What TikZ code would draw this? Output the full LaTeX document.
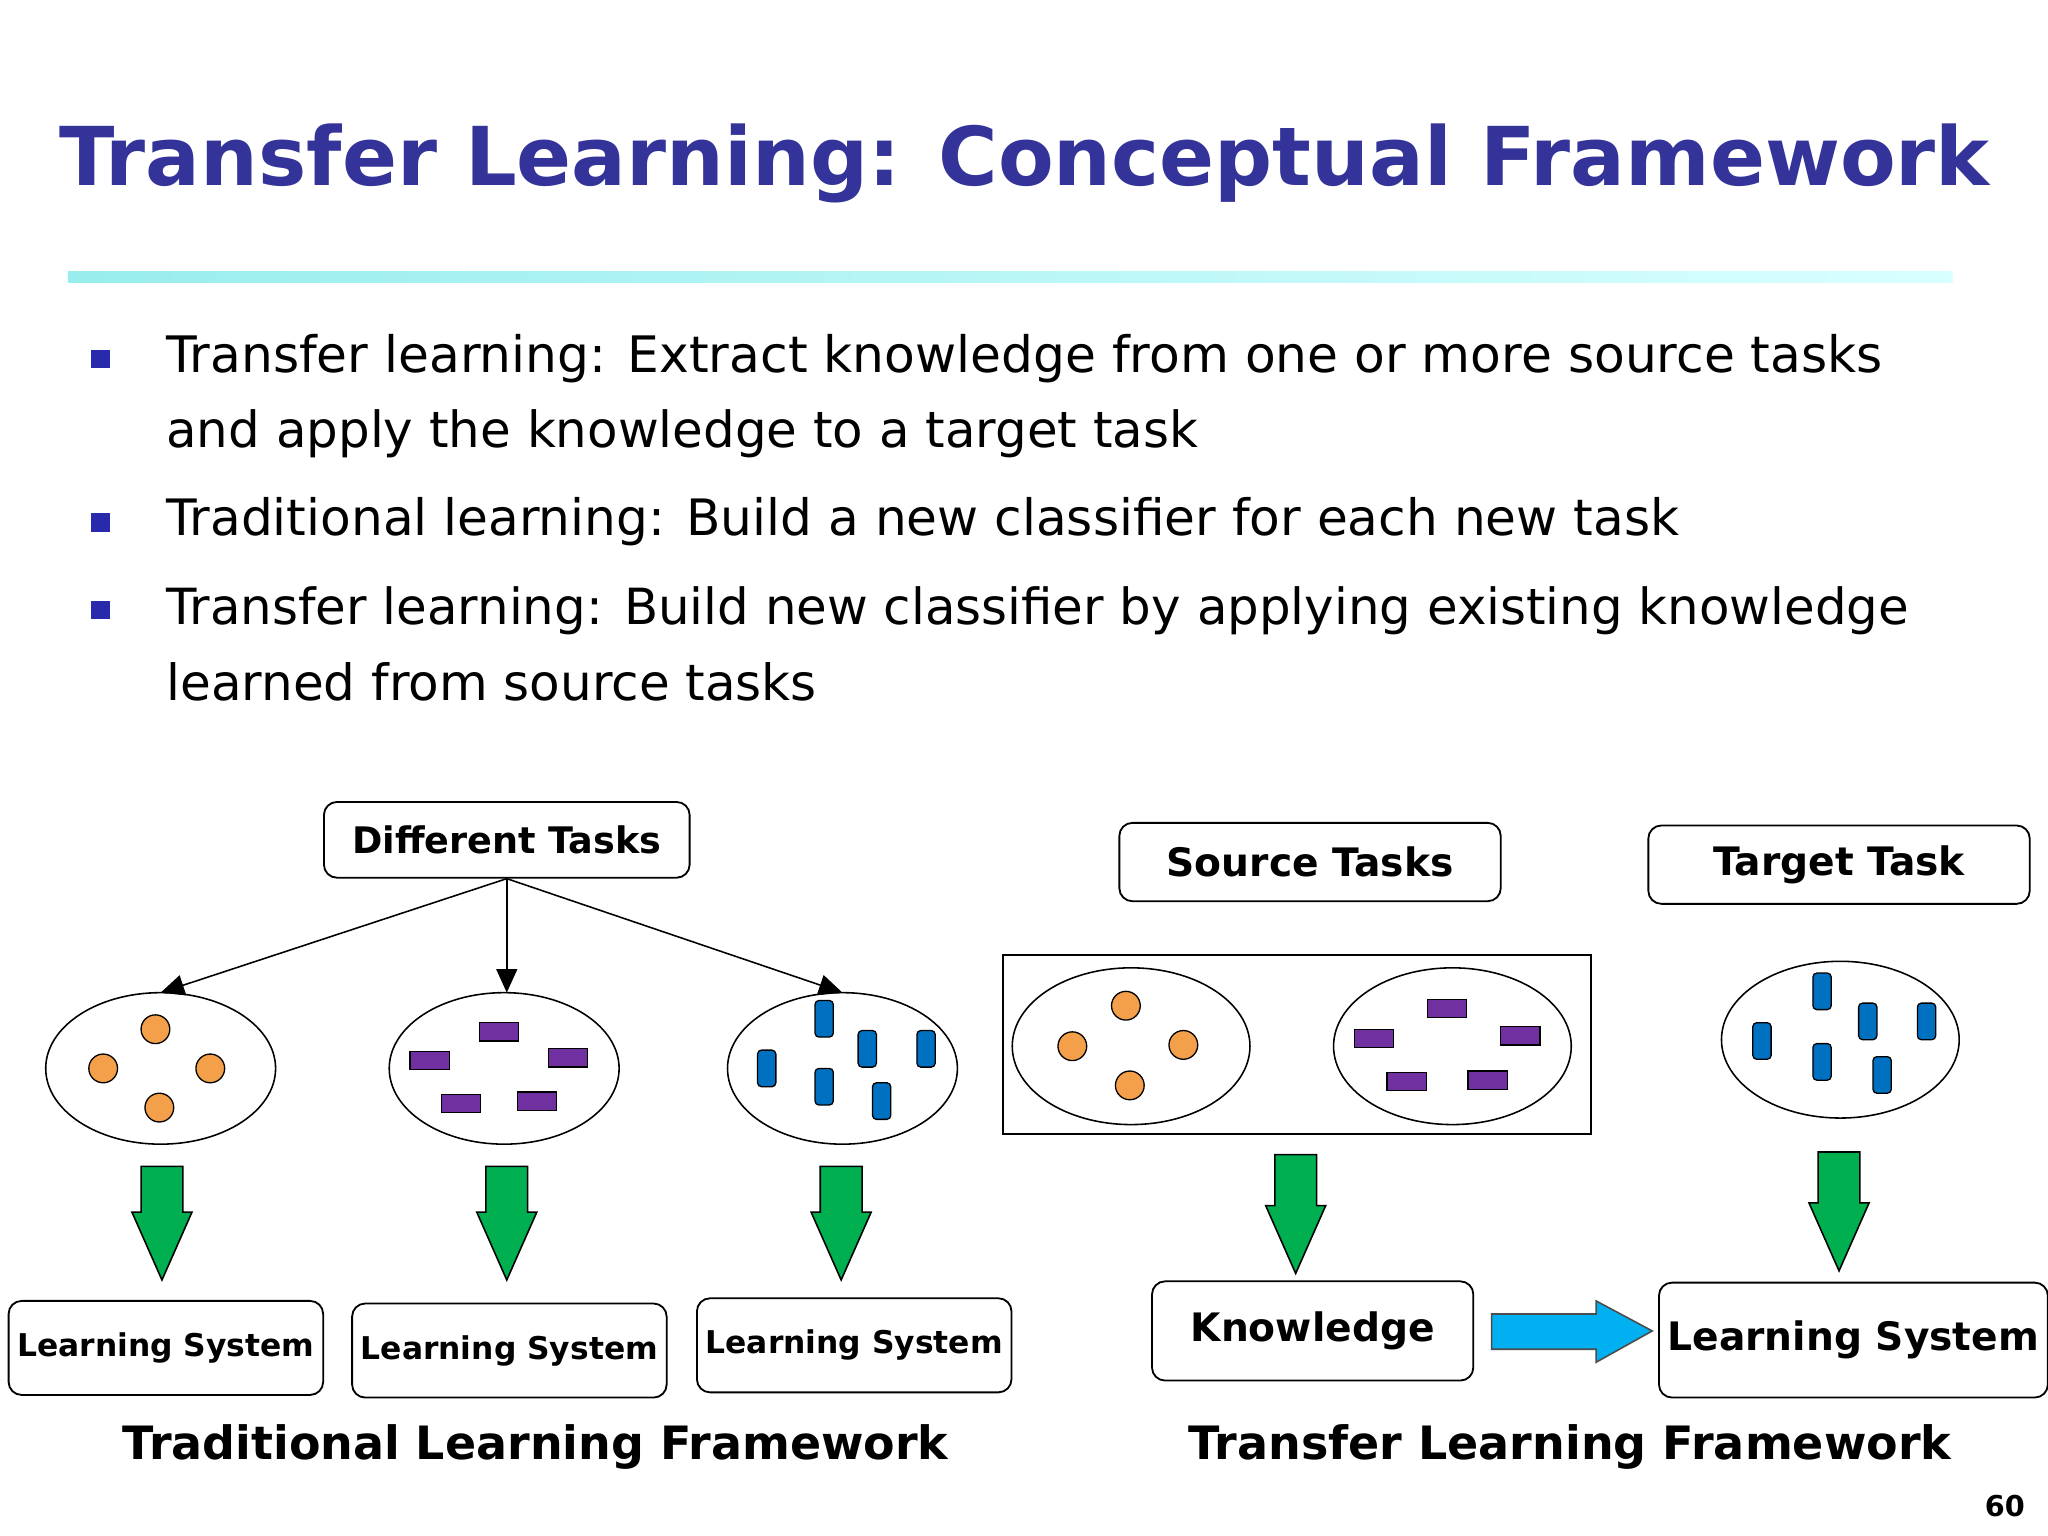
\documentclass[tikz,border=0pt]{standalone}
\usepackage{graphicx}
\usepackage{fontspec}
\setmainfont{DejaVu Sans}
\usetikzlibrary{arrows.meta,shapes.geometric}
\definecolor{ttl}{HTML}{333399}
\definecolor{org}{HTML}{F4A04A}
\definecolor{pur}{HTML}{7030A0}
\definecolor{blu}{HTML}{0070C0}
\definecolor{grn}{HTML}{00B050}
\definecolor{cyn}{HTML}{00B0F0}
\tikzset{
 rbox/.style={draw,rounded corners=5pt,line width=0.7pt,font=\bfseries},
 ell/.style={draw,ellipse,line width=0.6pt},
 oc/.style={draw,circle,fill=org,minimum size=11pt,inner sep=0pt,line width=0.5pt},
 pr/.style={draw,fill=pur,minimum width=15pt,minimum height=7pt,inner sep=0pt,line width=0.5pt},
 br/.style={draw,fill=blu,rounded corners=1.5pt,minimum width=7pt,minimum height=14pt,inner sep=0pt,line width=0.5pt},
 ga/.style={draw,fill=grn,line width=0.6pt,line join=miter},
 conn/.style={-{Triangle[length=9pt,width=8pt]},line width=0.6pt},
}
\newcommand{\lw}[2]{\resizebox{#1pt}{!}{#2}}
\begin{document}
\begin{tikzpicture}[x=0.5pt,y=-0.5pt]
\useasboundingbox (0,0) rectangle (1568,1176);
\node[anchor=west,text=ttl,font=\bfseries,inner sep=0pt] (title) at (45,125) {\lw{739}{Transfer Learning: Conceptual Framework}};
\shade[left color=teal!35!cyan!40, right color=cyan!15] (52,208) rectangle (1495,216);
\foreach \y in {275,400,467}{\fill[ttl!80!blue] (70,\y-7) rectangle (84,\y+7);}
\node[anchor=base west,inner sep=0pt] (b1) at (127,285) {\lw{657}{Transfer learning: Extract knowledge from one or more source tasks}};
\node[anchor=base west,inner sep=0pt] (b1b) at (127,343) {\lw{395}{and apply the knowledge to a target task}};
\node[anchor=base west,inner sep=0pt] (b2) at (127,410) {\lw{579}{Traditional learning: Build a new classifier for each new task}};
\node[anchor=base west,inner sep=0pt] (b3) at (127,478) {\lw{667}{Transfer learning: Build new classifier by applying existing knowledge}};
\node[anchor=base west,inner sep=0pt] (b3b) at (127,536) {\lw{249}{learned from source tasks}};
% left
\node[rbox,minimum width=140pt,minimum height=29pt,font=\bfseries\fontsize{14}{16}\selectfont] (dt) at (388,643) {Different Tasks};
\node[ell,minimum width=88pt,minimum height=58pt] (e1) at (123,818) {};
\node[ell,minimum width=88pt,minimum height=58pt] (e2) at (386,818) {};
\node[ell,minimum width=88pt,minimum height=58pt] (e3) at (645,818) {};
\coordinate (t1) at (123,760); \coordinate (t2) at (388,760); \coordinate (t3) at (645,760);
\draw[conn] (dt.south) -- (t1); \draw[conn] (dt.south) -- (t2); \draw[conn] (dt.south) -- (t3);
\foreach \p in {(119,788),(79,818),(161,818),(122,848),(862,770),(821,801),(906,800),(865,831)} \node[oc] at \p {};
\foreach \p in {(382,790),(329,812),(435,810),(353,845),(411,843),(1108,772),(1052,795),(1164,793),(1077,828),(1139,827)} \node[pr] at \p {};
\foreach \p in {(631,780),(587,818),(664,803),(709,803),(631,832),(675,843),(1395,759),(1349,797),(1430,782),(1475,782),(1395,813),(1441,823)} \node[br] at \p {};
\foreach \cx/\tp/\tip in {124/893/980,388/893/980,644/893/980,992/884/975,1408/882/973}{
 \draw[ga] (\cx-16,\tp) -- (\cx+16,\tp) -- (\cx+16,\tip-52) -- (\cx+23,\tip-52) -- (\cx,\tip) -- (\cx-23,\tip-52) -- (\cx-16,\tip-52) -- cycle;}
\tikzset{ls/.style={rbox,minimum width=117pt,minimum height=36pt,font=\bfseries\fontsize{12}{14}\selectfont}}
\node[ls] (l1) at (127,1032) {Learning System};
\node[ls] (l2) at (390,1034) {Learning System};
\node[ls] (l3) at (654,1030) {Learning System};
\node[font=\bfseries,inner sep=0pt] (tlf) at (410,1108) {\lw{316}{Traditional Learning Framework}};
% right
\node[rbox,minimum width=146pt,minimum height=30pt,font=\bfseries\fontsize{15}{17}\selectfont] (st) at (1003,660) {Source Tasks};
\node[rbox,minimum width=146pt,minimum height=30pt,font=\bfseries\fontsize{15}{17}\selectfont] (tt) at (1408,662) {Target Task};
\draw[line width=0.8pt] (768,731) rectangle (1218,868);
\node[ell,minimum width=91pt,minimum height=60pt] (e4) at (866,801) {};
\node[ell,minimum width=91pt,minimum height=60pt] (e5) at (1112,801) {};
\node[ell,minimum width=91pt,minimum height=60pt] (e6) at (1409,796) {};
\node[rbox,minimum width=123pt,minimum height=38pt,font=\bfseries\fontsize{15}{17}\selectfont] (kn) at (1005,1019) {Knowledge};
\node[rbox,minimum width=142pt,minimum height=44pt,font=\bfseries\fontsize{15}{17}\selectfont] (l4) at (1419,1026) {Learning System};
\draw[draw=black!70,fill=cyn,line width=0.6pt] (1142,1006) -- (1222,1006) -- (1222,996) -- (1265,1019) -- (1222,1043) -- (1222,1033) -- (1142,1033) -- cycle;
\node[font=\bfseries,inner sep=0pt] (trf) at (1202,1108) {\lw{292}{Transfer Learning Framework}};
\node[font=\bfseries\fontsize{11}{13}\selectfont,inner sep=0pt] (pg) at (1535,1153) {60};
\end{tikzpicture}
\end{document}
